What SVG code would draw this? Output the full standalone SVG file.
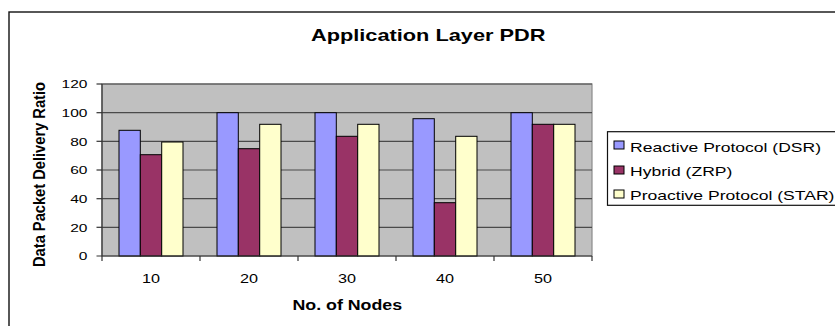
<svg xmlns="http://www.w3.org/2000/svg" width="835" height="326" viewBox="0 0 835 326">
<style>
text{font-family:"Liberation Sans",Arial,sans-serif;fill:#000}
.b{font-weight:bold}
.grid{stroke:#4a4a4a;stroke-width:1.2}
.bar{stroke:#000;stroke-width:1}
.s1{fill:#9999FF}.s2{fill:#993366}.s3{fill:#FFFFCC}
.ax{stroke:#333;stroke-width:1.2}
</style>
<rect width="835" height="326" fill="#fff"/>
<rect id="chart-border" x="9" y="12" width="830" height="330" fill="none" stroke="#111" stroke-width="1.4"/>
<g id="title"><g transform="translate(311,40.7) scale(1.28,1)"><text class="b" font-size="17">Application Layer PDR</text></g></g>
<g id="plot">
<rect x="102" y="84" width="490" height="172" fill="#C0C0C0" stroke="#8a8a8a" stroke-width="1.2"/>
<g class="grid">
<line x1="102" y1="84" x2="592" y2="84"/>
<line x1="102" y1="112.7" x2="592" y2="112.7"/>
<line x1="102" y1="141.3" x2="592" y2="141.3"/>
<line x1="102" y1="170" x2="592" y2="170"/>
<line x1="102" y1="198.7" x2="592" y2="198.7"/>
<line x1="102" y1="227.3" x2="592" y2="227.3"/>
</g>
<g id="bars">
<rect class="bar s1" x="119" y="130.3" width="21.3" height="125.7"/>
<rect class="bar s2" x="140.3" y="154.7" width="21.4" height="101.3"/>
<rect class="bar s3" x="161.7" y="142" width="21.3" height="114"/>
<rect class="bar s1" x="217" y="112.7" width="21.3" height="143.3"/>
<rect class="bar s2" x="238.3" y="148.7" width="21.4" height="107.3"/>
<rect class="bar s3" x="259.7" y="124.3" width="21.3" height="131.7"/>
<rect class="bar s1" x="315" y="112.7" width="21.3" height="143.3"/>
<rect class="bar s2" x="336.3" y="136.3" width="21.4" height="119.7"/>
<rect class="bar s3" x="357.7" y="124.3" width="21.3" height="131.7"/>
<rect class="bar s1" x="413" y="118.7" width="21.3" height="137.3"/>
<rect class="bar s2" x="434.3" y="202.7" width="21.4" height="53.3"/>
<rect class="bar s3" x="455.7" y="136.3" width="21.3" height="119.7"/>
<rect class="bar s1" x="511" y="112.7" width="21.3" height="143.3"/>
<rect class="bar s2" x="532.3" y="124.3" width="21.4" height="131.7"/>
<rect class="bar s3" x="553.7" y="124.3" width="21.3" height="131.7"/>
</g>
<g id="axes" class="ax">
<line x1="102" y1="84" x2="102" y2="256"/>
<line x1="96.5" y1="256" x2="592" y2="256"/>
<line x1="96.5" y1="84" x2="102" y2="84"/>
<line x1="96.5" y1="112.7" x2="102" y2="112.7"/>
<line x1="96.5" y1="141.3" x2="102" y2="141.3"/>
<line x1="96.5" y1="170" x2="102" y2="170"/>
<line x1="96.5" y1="198.7" x2="102" y2="198.7"/>
<line x1="96.5" y1="227.3" x2="102" y2="227.3"/>
<line x1="102" y1="256" x2="102" y2="261"/>
<line x1="200" y1="256" x2="200" y2="261"/>
<line x1="298" y1="256" x2="298" y2="261"/>
<line x1="396" y1="256" x2="396" y2="261"/>
<line x1="494" y1="256" x2="494" y2="261"/>
<line x1="592" y1="256" x2="592" y2="261"/>
</g>
</g>
<g id="y-ticks" text-anchor="end" font-size="11.5">
<g transform="translate(87.5,88.2) scale(1.35,1)"><text>120</text></g>
<g transform="translate(87.5,116.9) scale(1.35,1)"><text>100</text></g>
<g transform="translate(87.5,145.5) scale(1.35,1)"><text>80</text></g>
<g transform="translate(87.5,174.2) scale(1.35,1)"><text>60</text></g>
<g transform="translate(87.5,202.9) scale(1.35,1)"><text>40</text></g>
<g transform="translate(87.5,231.5) scale(1.35,1)"><text>20</text></g>
<g transform="translate(87.5,260.2) scale(1.35,1)"><text>0</text></g>
</g>
<g id="x-ticks" text-anchor="middle" font-size="12">
<g transform="translate(151,283) scale(1.35,1)"><text>10</text></g>
<g transform="translate(249,283) scale(1.35,1)"><text>20</text></g>
<g transform="translate(347,283) scale(1.35,1)"><text>30</text></g>
<g transform="translate(445,283) scale(1.35,1)"><text>40</text></g>
<g transform="translate(543,283) scale(1.35,1)"><text>50</text></g>
</g>
<g id="x-title"><g transform="translate(347.3,309.5) scale(1.27,1)"><text class="b" font-size="14" text-anchor="middle">No. of Nodes</text></g></g>
<g id="y-title"><g transform="translate(44.5,174.5) scale(1.3,1) rotate(-90)"><text class="b" font-size="13" text-anchor="middle" textLength="185" lengthAdjust="spacingAndGlyphs">Data Packet Delivery Ratio</text></g></g>
<g id="legend">
<rect x="607.5" y="131.7" width="240" height="73.6" fill="#fff" stroke="#111" stroke-width="1.2"/>
<rect class="bar s1" x="614" y="141" width="10" height="8"/>
<rect class="bar s2" x="614" y="166" width="10" height="8"/>
<rect class="bar s3" x="614" y="190" width="10" height="8"/>
<g font-size="13">
<g transform="translate(630,151.5) scale(1.35,1)"><text>Reactive Protocol (DSR)</text></g>
<g transform="translate(630,175.5) scale(1.35,1)"><text>Hybrid (ZRP)</text></g>
<g transform="translate(630,200) scale(1.35,1)"><text>Proactive Protocol (STAR)</text></g>
</g>
</g>
</svg>
